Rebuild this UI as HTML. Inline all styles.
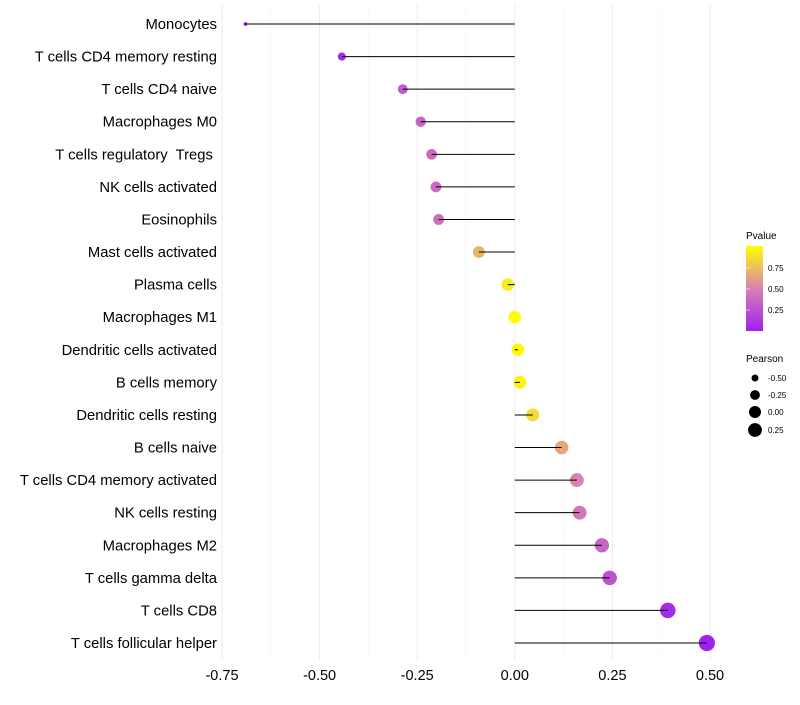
<!DOCTYPE html>
<html><head><meta charset="utf-8"><style>
body{margin:0;background:#fff;font-family:"Liberation Sans",sans-serif}
svg text{font-family:"Liberation Sans",sans-serif;white-space:pre}
</style></head><body>
<svg id="c" width="800" height="700" xmlns="http://www.w3.org/2000/svg">
<defs><linearGradient id="pg" x1="0" y1="1" x2="0" y2="0">
<stop offset="0" stop-color="#A020F0"/><stop offset="0.5" stop-color="#D882B0"/><stop offset="1" stop-color="#FFFF00"/>
</linearGradient></defs>
<g id="grid"></g><g id="marks"></g><g id="ylab"></g><g id="xlab"></g>
<g>
<text x="746" y="239" font-size="10">Pvalue</text>
<rect x="746" y="246" width="17" height="85" fill="url(#pg)"/>
<g id="cbt"></g>
</g>
<g id="pl">
<text x="746" y="362" font-size="10">Pearson</text>
</g>
</svg>
<script>
const cells=["Monocytes","T cells CD4 memory resting","T cells CD4 naive","Macrophages M0","T cells regulatory  Tregs ","NK cells activated","Eosinophils","Mast cells activated","Plasma cells","Macrophages M1","Dendritic cells activated","B cells memory","Dendritic cells resting","B cells naive","T cells CD4 memory activated","NK cells resting","Macrophages M2","T cells gamma delta","T cells CD8","T cells follicular helper"];
const pearson=[-0.69,-0.443,-0.287,-0.241,-0.213,-0.202,-0.195,-0.092,-0.018,0.0,0.008,0.013,0.046,0.12,0.159,0.166,0.223,0.243,0.392,0.492];
const pvalue=[0.02,0.05,0.3,0.35,0.38,0.38,0.4,0.7,0.93,0.99,0.97,0.95,0.85,0.65,0.5,0.45,0.35,0.25,0.05,0.01];
const xTicks=[-0.75,-0.5,-0.25,0,0.25,0.5];
const xTickLabels=["-0.75","-0.50","-0.25","0.00","0.25","0.50"];
const pTicks=[0.25,0.5,0.75];
const sizeBreaks=[-0.5,-0.25,0,0.25];
const NS="http://www.w3.org/2000/svg";
const X=v=>514.8+v*390.4;
const Y=i=>24+i*(619/19);
const R=v=>1.08*Math.sqrt(Math.max(2.5,34+44.7*v));
const PY=p=>331-p*84;
function hex(h){return [1,3,5].map(i=>parseInt(h.substr(i,2),16));}
function col(p){const s=[[0,hex("#A020F0")],[0.5,hex("#D882B0")],[1,hex("#FFFF00")]];
let a=p<=0.5?s[0]:s[1],b=p<=0.5?s[1]:s[2];let t=(p-a[0])/(b[0]-a[0]);
return "rgb("+a[1].map((c,k)=>Math.round(c+(b[1][k]-c)*t)).join(",")+")";}
function mk(t,at,par){const e=document.createElementNS(NS,t);for(const k in at)e.setAttribute(k,at[k]);document.getElementById(par).appendChild(e);return e;}
for(let k=0;k<xTicks.length;k++){
 let g=mk("line",{x1:X(xTicks[k]),x2:X(xTicks[k]),y1:5,y2:660,stroke:"#ebebeb","stroke-width":1},"grid");
 
 
 if(k<xTicks.length-1){let m=(xTicks[k]+xTicks[k+1])/2;
 let g2=mk("line",{x1:X(m),x2:X(m),y1:5,y2:660,stroke:"#f4f4f4","stroke-width":0.6},"grid");
 
 }
 let t=mk("text",{x:X(xTicks[k]),y:680,"font-size":14.5,"text-anchor":"middle",fill:"#000"},"xlab");
 t.textContent=xTickLabels[k];
 
 
}
for(let i=0;i<cells.length;i++){
 let y=Y(i);
 let c=mk("circle",{cx:X(pearson[i]),cy:y,r:R(pearson[i]),fill:col(pvalue[i])},"marks");
 
 
 let l=mk("line",{x1:X(0),x2:X(pearson[i]),y1:y,y2:y,stroke:"#000","stroke-width":1},"marks");
 
 
 let t=mk("text",{x:217,y:y+5,"font-size":14.8,"text-anchor":"end",fill:"#000"},"ylab");
 t.textContent=cells[i];
 
 
}
for(const p of pTicks){
 let a=mk("line",{x1:746,x2:750,y1:PY(p),y2:PY(p),stroke:"#fff","stroke-width":0.6},"cbt");
 
 
 let t=mk("text",{x:768,y:PY(p)+3,"font-size":8},"cbt");
 t.textContent=p.toFixed(2);
 
 
}
const ly=[378,395,412,430];
sizeBreaks.forEach((v,k)=>{
 let c=mk("circle",{cx:755,cy:ly[k],r:R(v)*0.95,fill:"#000"},"pl");
 
 
 let t=mk("text",{x:768,y:ly[k]+3,"font-size":8},"pl");
 t.textContent=v.toFixed(2);
 
 
});
</script>
</body></html>
